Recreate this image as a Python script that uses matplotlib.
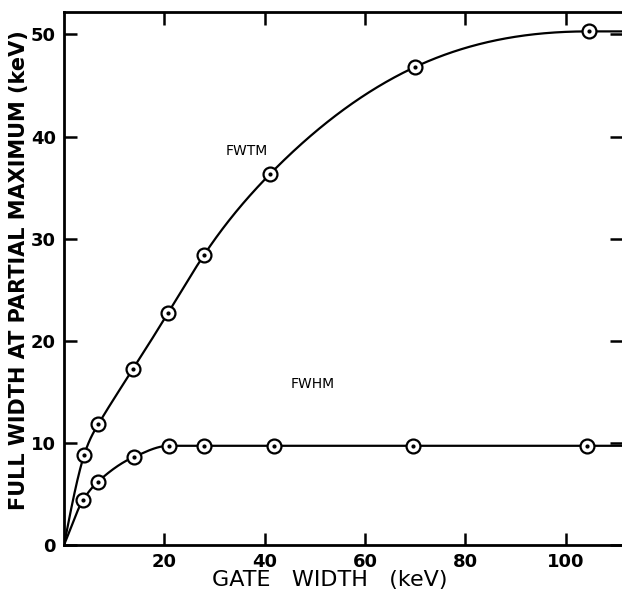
import numpy as np
import matplotlib
matplotlib.use("Agg")
import matplotlib.pyplot as plt

# measured points (gate width keV, width keV)
fwtm_x = [4.0, 6.8, 13.7, 20.7, 27.9, 41.0, 69.9, 104.6]
fwtm_y = [8.8, 11.8, 17.2, 22.7, 28.4, 36.3, 46.8, 50.3]
fwhm_x = [3.8, 6.8, 13.9, 20.9, 27.9, 41.8, 69.5, 104.2]
fwhm_y = [4.4, 6.2, 8.6, 9.7, 9.7, 9.7, 9.7, 9.7]

xticks = [20, 40, 60, 80, 100]
yticks = [0, 10, 20, 30, 40, 50]
x_max = 111.2
y_max = 52.2


def hermite(x, y, m, xs):
    x = np.asarray(x, float)
    y = np.asarray(y, float)
    h = np.diff(x)
    k = np.clip(np.searchsorted(x, xs, side="right") - 1, 0, len(x) - 2)
    t = (xs - x[k]) / h[k]
    return ((2 * t**3 - 3 * t**2 + 1) * y[k] + (t**3 - 2 * t**2 + t) * h[k] * m[k]
            + (-2 * t**3 + 3 * t**2) * y[k + 1] + (t**3 - t**2) * h[k] * m[k + 1])


def pchip_slopes(x, y):
    x = np.asarray(x, float)
    y = np.asarray(y, float)
    h = np.diff(x)
    d = np.diff(y) / h
    m = np.zeros_like(y)
    for k in range(1, len(x) - 1):
        if d[k - 1] * d[k] > 0:
            w1 = 2 * h[k] + h[k - 1]
            w2 = h[k] + 2 * h[k - 1]
            m[k] = (w1 + w2) / (w1 / d[k - 1] + w2 / d[k])
    m[0] = d[0]
    m[-1] = d[-1]
    return m


def spline_slopes(x, y, end_slope=0.0):
    # cubic spline, natural at the start, clamped slope at the end
    x = np.asarray(x, float)
    y = np.asarray(y, float)
    n = len(x)
    h = np.diff(x)
    A = np.zeros((n, n))
    b = np.zeros(n)
    A[0, 0], A[0, 1] = 2, 1
    b[0] = 3 * (y[1] - y[0]) / h[0]
    for i in range(1, n - 1):
        A[i, i - 1] = 1 / h[i - 1]
        A[i, i] = 2 / h[i - 1] + 2 / h[i]
        A[i, i + 1] = 1 / h[i]
        b[i] = 3 * ((y[i] - y[i - 1]) / h[i - 1] ** 2 + (y[i + 1] - y[i]) / h[i] ** 2)
    A[-1, -1] = 1
    b[-1] = end_slope
    return np.linalg.solve(A, b)


fig = plt.figure(figsize=(6.22, 6.0), dpi=100)
ax = fig.add_axes([0.103, 0.092, 0.897, 0.888])

xs = np.linspace(0, x_max, 800)

# FWTM: smooth spline from origin up to the last point, then flat
cx = [0.0] + fwtm_x
cy = [0.0] + fwtm_y
ys = hermite(cx, cy, spline_slopes(cx, cy), xs)
ys[xs > fwtm_x[-1]] = fwtm_y[-1]
ax.plot(xs, ys, color="black", lw=1.6, zorder=2)

# FWHM: monotone curve, flat plateau
cx = [0.0] + fwhm_x + [x_max]
cy = [0.0] + fwhm_y + [fwhm_y[-1]]
ax.plot(xs, hermite(cx, cy, pchip_slopes(cx, cy), xs), color="black", lw=1.6, zorder=2)

for px, py in [(fwtm_x, fwtm_y), (fwhm_x, fwhm_y)]:
    ax.plot(px, py, "o", ms=10, mfc="white", mec="black", mew=1.6, zorder=3)
    ax.plot(px, py, "o", ms=2, color="black", zorder=4)

ax.text(36.5, 38.6, "FWTM", fontsize=10, ha="center", va="center")
ax.text(49.5, 15.8, "FWHM", fontsize=10, ha="center", va="center")

ax.set_xlim(0, x_max)
ax.set_ylim(0, y_max)
ax.set_xticks(xticks)
ax.set_yticks(yticks)
ax.tick_params(direction="in", length=9, width=1.8, top=True, right=True,
               labelsize=13, pad=6)
for lab in ax.get_xticklabels() + ax.get_yticklabels():
    lab.set_fontweight("bold")
for s in ["left", "bottom", "top"]:
    ax.spines[s].set_linewidth(2.0)
ax.spines["right"].set_visible(False)

ax.set_xlabel("GATE   WIDTH   (keV)", fontsize=16)
ax.xaxis.set_label_coords(0.477, -0.048)
ax.set_ylabel("FULL WIDTH AT PARTIAL MAXIMUM (keV)", fontsize=15,
              fontweight="bold")
ax.yaxis.set_label_coords(-0.062, 0.516)

fig.savefig("out.png", dpi=100)
